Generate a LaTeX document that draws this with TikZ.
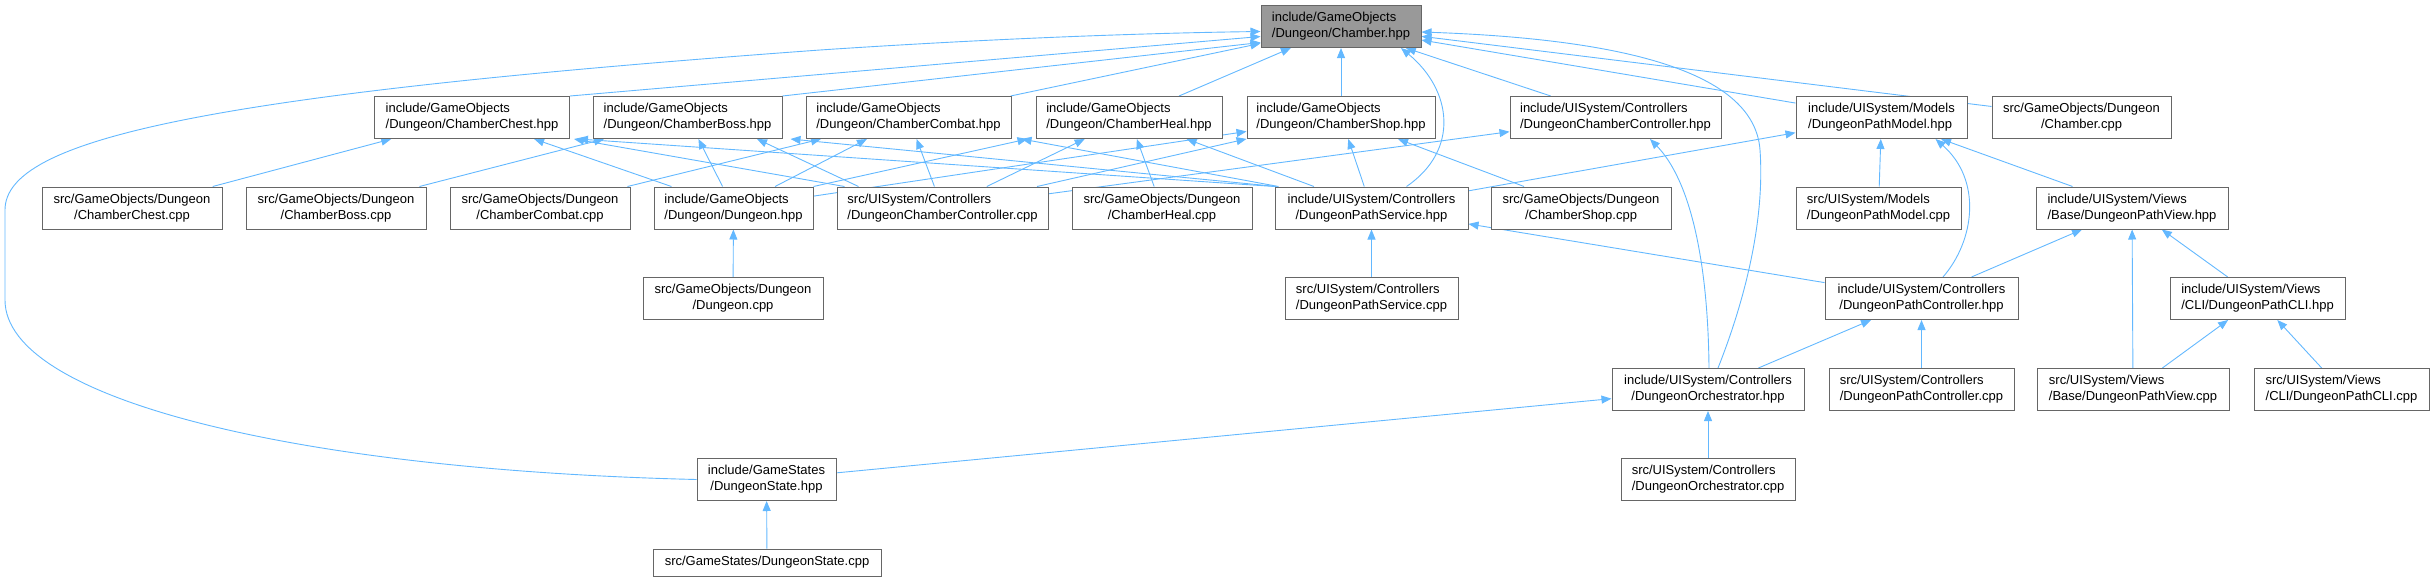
\documentclass[tikz,border=0pt]{standalone}
\usepackage{fontspec}
\setmainfont{Liberation Sans}
\usetikzlibrary{arrows.meta,backgrounds}
\definecolor{edgeblue}{HTML}{63B8FF}
\definecolor{boxgray}{HTML}{666666}
\definecolor{rootfill}{HTML}{999999}
\begin{document}
\begin{tikzpicture}[x=1pt,y=-1pt,
  box/.style={draw=boxgray, fill=white, line width=1pt, inner sep=0pt, minimum height=42pt, font=\fontsize{13}{16}\selectfont},
  lbox/.style={box, align=left},
  cbox/.style={box, align=center},
  edge/.style={draw=edgeblue, line width=0.9pt, -{Triangle[length=10pt,width=8pt]}}]
\useasboundingbox (0,0) rectangle (2434,581);

% root
\node[lbox, fill=rootfill, minimum width=160pt] (root) at (1341,26.5) {include/GameObjects\\/Dungeon/Chamber.hpp};

% row 1
\node[lbox, minimum width=195pt] (chestH) at (472,117.5) {include/GameObjects\\/Dungeon/ChamberChest.hpp};
\node[lbox, minimum width=189pt] (bossH) at (687.5,117.5) {include/GameObjects\\/Dungeon/ChamberBoss.hpp};
\node[lbox, minimum width=205pt] (combatH) at (908.5,117.5) {include/GameObjects\\/Dungeon/ChamberCombat.hpp};
\node[lbox, minimum width=186pt] (healH) at (1129,117.5) {include/GameObjects\\/Dungeon/ChamberHeal.hpp};
\node[lbox, minimum width=188pt] (shopH) at (1341,117.5) {include/GameObjects\\/Dungeon/ChamberShop.hpp};
\node[lbox, minimum width=211pt] (dccH) at (1615.5,117.5) {include/UISystem/Controllers\\/DungeonChamberController.hpp};
\node[lbox, minimum width=171pt] (pmodelH) at (1881.5,117.5) {include/UISystem/Models\\/DungeonPathModel.hpp};
\node[cbox, minimum width=179pt] (chamberC) at (2081.5,117.5) {src/GameObjects/Dungeon\\/Chamber.cpp};

% row 2
\node[cbox, minimum width=180pt] (chestC) at (132,208) {src/GameObjects/Dungeon\\/ChamberChest.cpp};
\node[cbox, minimum width=180pt] (bossC) at (336,208) {src/GameObjects/Dungeon\\/ChamberBoss.cpp};
\node[cbox, minimum width=180pt] (combatC) at (540,208) {src/GameObjects/Dungeon\\/ChamberCombat.cpp};
\node[lbox, minimum width=159pt] (dungeonH) at (733.5,208) {include/GameObjects\\/Dungeon/Dungeon.hpp};
\node[lbox, minimum width=211pt] (dccC) at (942.5,208) {src/UISystem/Controllers\\/DungeonChamberController.cpp};
\node[cbox, minimum width=180pt] (healC) at (1162,208) {src/GameObjects/Dungeon\\/ChamberHeal.cpp};
\node[cbox, minimum width=193pt] (pserviceH) at (1371.5,208) {include/UISystem/Controllers\\/DungeonPathService.hpp};
\node[cbox, minimum width=180pt] (shopC) at (1581,208) {src/GameObjects/Dungeon\\/ChamberShop.cpp};
\node[lbox, minimum width=165pt] (pmodelC) at (1878.5,208) {src/UISystem/Models\\/DungeonPathModel.cpp};
\node[lbox, minimum width=192pt] (pviewH) at (2132,208) {include/UISystem/Views\\/Base/DungeonPathView.hpp};

% row 3
\node[cbox, minimum width=180pt] (dungeonC) at (733,298.5) {src/GameObjects/Dungeon\\/Dungeon.cpp};
\node[lbox, minimum width=173pt] (pserviceC) at (1371.5,298.5) {src/UISystem/Controllers\\/DungeonPathService.cpp};
\node[cbox, minimum width=193pt] (pctrlH) at (1921.5,298.5) {include/UISystem/Controllers\\/DungeonPathController.hpp};
\node[lbox, minimum width=175pt] (pcliH) at (2257.5,298.5) {include/UISystem/Views\\/CLI/DungeonPathCLI.hpp};

% row 4
\node[cbox, minimum width=192pt] (orchH) at (1708,389.5) {include/UISystem/Controllers\\/DungeonOrchestrator.hpp};
\node[lbox, minimum width=185pt] (pctrlC) at (1921.5,389.5) {src/UISystem/Controllers\\/DungeonPathController.cpp};
\node[lbox, minimum width=192pt] (pviewC) at (2133,389.5) {src/UISystem/Views\\/Base/DungeonPathView.cpp};
\node[lbox, minimum width=175pt] (pcliC) at (2341.5,389.5) {src/UISystem/Views\\/CLI/DungeonPathCLI.cpp};

% row 5
\node[cbox, minimum width=139pt] (stateH) at (766.5,479.5) {include/GameStates\\/DungeonState.hpp};
\node[lbox, minimum width=174pt] (orchC) at (1708,479.5) {src/UISystem/Controllers\\/DungeonOrchestrator.cpp};

% row 6
\node[cbox, minimum width=228pt, minimum height=27pt] (stateC) at (767,562.5) {src/GameStates/DungeonState.cpp};

\begin{pgfonlayer}{background}
% edges into root
\draw[edge] (chestH.north east) -- ([yshift=-10pt]root.west);
\draw[edge] (bossH.north east) -- ([yshift=-16pt]root.west);
\draw[edge] (combatH) -- (root);
\draw[edge] (healH) -- (root);
\draw[edge] (shopH) -- (root);
\draw[edge] (dccH) -- (root);
\draw[edge] (pmodelH) -- (root);
\draw[edge] (chamberC) -- (root);
\draw[edge] ([xshift=35pt]pserviceH.north) .. controls (1460,150) and (1452,90) .. ([xshift=60pt]root.south);
\draw[edge] ([xshift=10pt]orchH.north) .. controls (1745,300) and (1765,220) .. (1760,150) .. controls (1755,80) and (1650,40) .. ([yshift=-5.5pt]root.east);
\draw[edge] (stateH.west) .. controls (300,470) and (5,400) .. (5,300) -- (5,210) .. controls (5,140) and (200,95) .. (820,50) .. controls (1000,38) and (1150,33) .. ([yshift=-5pt]root.west);

% edges leaving along the bottom corners of the chamber headers
\draw[edge] ([xshift=8pt]dccC.north west) -- ([xshift=4pt]chestH.south east);
\draw[edge] (pserviceH.north west) -- ([xshift=8pt]chestH.south east);
\draw[edge] ([xshift=22pt]dccC.north west) -- ([xshift=69.5pt]bossH.south);
\draw[edge] ([xshift=2pt]pserviceH.north west) -- ([xshift=8pt]bossH.south east);
\draw[edge] ([xshift=4pt]pserviceH.north west) -- ([xshift=10pt]combatH.south east);
\draw[edge] (dungeonH.north east) -- ([xshift=-8pt]healH.south west);

% straight edges
\foreach \s/\t in {chestC/chestH, dungeonH/chestH,
                   bossC/bossH, dungeonH/bossH,
                   combatC/combatH, dungeonH/combatH, dccC/combatH,
                   healC/healH, dccC/healH, pserviceH/healH,
                   shopC/shopH, dungeonH/shopH, dccC/shopH, pserviceH/shopH,
                   dccC/dccH, dungeonC/dungeonH,
                   pserviceH/pmodelH, pmodelC/pmodelH, pviewH/pmodelH,
                   pserviceC/pserviceH, pctrlH/pserviceH,
                   pctrlH/pviewH, pviewC/pviewH, pcliH/pviewH,
                   orchH/pctrlH, pctrlC/pctrlH,
                   pviewC/pcliH, pcliC/pcliH,
                   stateH/orchH, orchC/orchH, stateC/stateH}
  \draw[edge] (\s) -- (\t);

% curved edges
\draw[edge] ([xshift=1pt]orchH.north) .. controls (1708,260) and (1690,180) .. ([xshift=34.5pt]dccH.south);
\draw[edge] ([xshift=21.5pt]pctrlH.north) .. controls (1975,240) and (1982,180) .. ([xshift=54pt]pmodelH.south);
\end{pgfonlayer}
\end{tikzpicture}
\end{document}
